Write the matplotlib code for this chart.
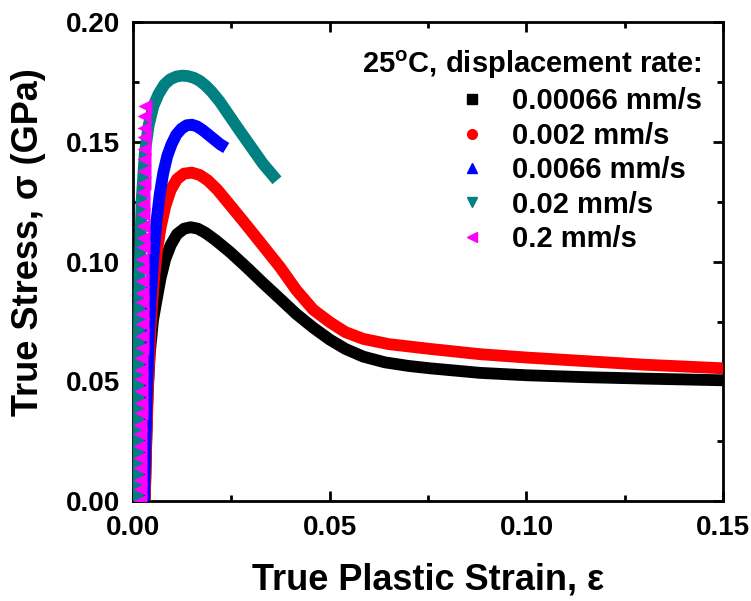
import numpy as np
import matplotlib
matplotlib.use("Agg")
import matplotlib.pyplot as plt
from matplotlib.lines import Line2D

# font settings (Arial-like bold)
plt.rcParams['font.family'] = ['Liberation Sans', 'DejaVu Sans']
plt.rcParams['font.weight'] = 'bold'
plt.rcParams['mathtext.fontset'] = 'custom'
plt.rcParams['mathtext.rm'] = 'Liberation Sans:bold'
plt.rcParams['mathtext.it'] = 'Liberation Sans:bold'
plt.rcParams['mathtext.bf'] = 'Liberation Sans:bold'

# data
labels = ['0.00066 mm/s', '0.002 mm/s', '0.0066 mm/s', '0.02 mm/s', '0.2 mm/s']
colors = ['black', '#ff0000', '#0000ff', '#008080', '#ff00ff']
markers = ['s', 'o', '^', 'v', '<']

strain_k = [0.0030, 0.0033, 0.0037, 0.0043, 0.0051, 0.0060, 0.0070, 0.0082, 0.0096,
            0.0112, 0.0130, 0.0147, 0.0165, 0.0185, 0.0210, 0.0247, 0.0290, 0.0330,
            0.0374, 0.0415, 0.0458, 0.0500, 0.0540, 0.0585, 0.0640, 0.0700, 0.0755,
            0.0882, 0.1000, 0.1150, 0.1300, 0.1500]
stress_k = [0.000, 0.020, 0.045, 0.062, 0.0756, 0.084, 0.093, 0.1010, 0.1070,
            0.1115, 0.1138, 0.1144, 0.1138, 0.1120, 0.1090, 0.1040, 0.0975, 0.0912,
            0.0845, 0.0782, 0.0725, 0.0675, 0.0636, 0.0604, 0.0580, 0.0565, 0.0555,
            0.0536, 0.0526, 0.0518, 0.0512, 0.0505]

strain_r = [0.0030, 0.0034, 0.0039, 0.0045, 0.0052, 0.0060, 0.0070, 0.0082, 0.0096,
            0.0112, 0.0130, 0.0150, 0.0170, 0.0190, 0.0215, 0.0247, 0.0280, 0.0320,
            0.0374, 0.0415, 0.0458, 0.0500, 0.0540, 0.0585, 0.0650, 0.0755, 0.0882,
            0.1000, 0.1150, 0.1300, 0.1500]
stress_r = [0.000, 0.025, 0.050, 0.073, 0.090, 0.103, 0.114, 0.123, 0.130,
            0.1345, 0.1368, 0.1372, 0.1362, 0.1340, 0.1300, 0.1236, 0.1170, 0.1088,
            0.0977, 0.0882, 0.0800, 0.0748, 0.0706, 0.0678, 0.0656, 0.0636, 0.0614,
            0.0600, 0.0585, 0.0570, 0.0555]

strain_b = [0.0028, 0.0031, 0.0035, 0.0040, 0.0046, 0.0053, 0.0060, 0.0068, 0.0077,
            0.0087, 0.0098, 0.0110, 0.0123, 0.0137, 0.0150, 0.0163, 0.0177, 0.0192,
            0.0207, 0.0222, 0.0237]
stress_b = [0.000, 0.020, 0.045, 0.068, 0.087, 0.104, 0.117, 0.128, 0.137,
            0.144, 0.149, 0.153, 0.1555, 0.157, 0.1572, 0.1565, 0.155, 0.1530,
            0.1510, 0.1490, 0.1475]

strain_t = [0.0012, 0.0014, 0.0017, 0.0022, 0.0030, 0.0040, 0.0052, 0.0065, 0.0080,
            0.0095, 0.0110, 0.0125, 0.0140, 0.0155, 0.0170, 0.0185, 0.0200, 0.0220,
            0.0245, 0.0270, 0.0300, 0.0330, 0.0366]
stress_t = [0.000, 0.050, 0.095, 0.125, 0.145, 0.157, 0.165, 0.170, 0.1740,
            0.1762, 0.1773, 0.1777, 0.1775, 0.1768, 0.1755, 0.1735, 0.1710, 0.1670,
            0.1610, 0.1550, 0.1480, 0.1410, 0.1340]

strain_m = [0.0017, 0.0017, 0.0018, 0.0018, 0.0018, 0.0019, 0.0019, 0.0019, 0.0020,
            0.0020, 0.0020, 0.0021, 0.0021, 0.0021, 0.0022, 0.0022, 0.0022, 0.0023,
            0.0023, 0.0023, 0.0024, 0.0024, 0.0024, 0.0025, 0.0025, 0.0025, 0.0026,
            0.0026, 0.0026, 0.0027, 0.0027, 0.0027, 0.0028, 0.0028, 0.0029, 0.0029,
            0.0030]
stress_m = [0.000, 0.005, 0.009, 0.014, 0.018, 0.023, 0.028, 0.032, 0.037,
            0.041, 0.046, 0.051, 0.055, 0.060, 0.064, 0.069, 0.074, 0.078,
            0.083, 0.087, 0.092, 0.097, 0.101, 0.106, 0.110, 0.115, 0.120,
            0.124, 0.129, 0.133, 0.138, 0.143, 0.147, 0.152, 0.156, 0.161,
            0.165]

fig = plt.figure(figsize=(7.51, 6.01), dpi=100)
ax = fig.add_axes([0.177, 0.166, 0.786, 0.797])

lw = 8.5
curves = [(strain_k, stress_k), (strain_r, stress_r), (strain_b, stress_b), (strain_t, stress_t)]
for i, (xs, ys) in enumerate(curves):
    ax.plot(xs, ys, color=colors[i], lw=lw, solid_joinstyle='round',
            solid_capstyle='butt', zorder=2 + i)
ax.plot(strain_m, stress_m, ls='none', marker='<', ms=9.5, mec='none',
        color=colors[4], zorder=6)

ax.set_xlim(0, 0.15)
ax.set_ylim(0, 0.20)
ax.set_xticks([0.00, 0.05, 0.10, 0.15])
ax.set_yticks([0.00, 0.05, 0.10, 0.15, 0.20])
ax.set_xticks([0.025, 0.075, 0.125], minor=True)
ax.set_yticks([0.025, 0.075, 0.125, 0.175], minor=True)
ax.xaxis.set_major_formatter(matplotlib.ticker.FormatStrFormatter('%.2f'))
ax.yaxis.set_major_formatter(matplotlib.ticker.FormatStrFormatter('%.2f'))
ax.tick_params(which='both', direction='in', top=True, right=True, width=2)
ax.tick_params(which='major', length=7, labelsize=20)
ax.tick_params(axis='x', which='major', pad=10)
ax.tick_params(axis='y', which='major', pad=9)
ax.tick_params(which='minor', length=4)
for s in ax.spines.values():
    s.set_linewidth(2)

ax.set_xlabel('True Plastic Strain, ε', fontsize=26, fontweight='bold')
ax.set_ylabel('True Stress, σ (GPa)', fontsize=26, fontweight='bold')
ax.xaxis.set_label_coords(0.5, -0.128)
ax.yaxis.set_label_coords(-0.148, 0.54)

handles = [Line2D([], [], ls='none', marker=m, color=c, ms=7) for m, c in zip(markers, colors)]
leg = ax.legend(handles, labels, title='25$^{\\mathrm{o}}$C, displacement rate:', loc='upper right',
                frameon=False, fontsize=21, title_fontsize=21, alignment='right',
                labelspacing=0.22, handletextpad=0.6, borderaxespad=0.7,
                handlelength=1.5, bbox_to_anchor=(1.018, 1.012))
leg.get_title().set_fontweight('bold')

fig.savefig('out.png', dpi=100)
